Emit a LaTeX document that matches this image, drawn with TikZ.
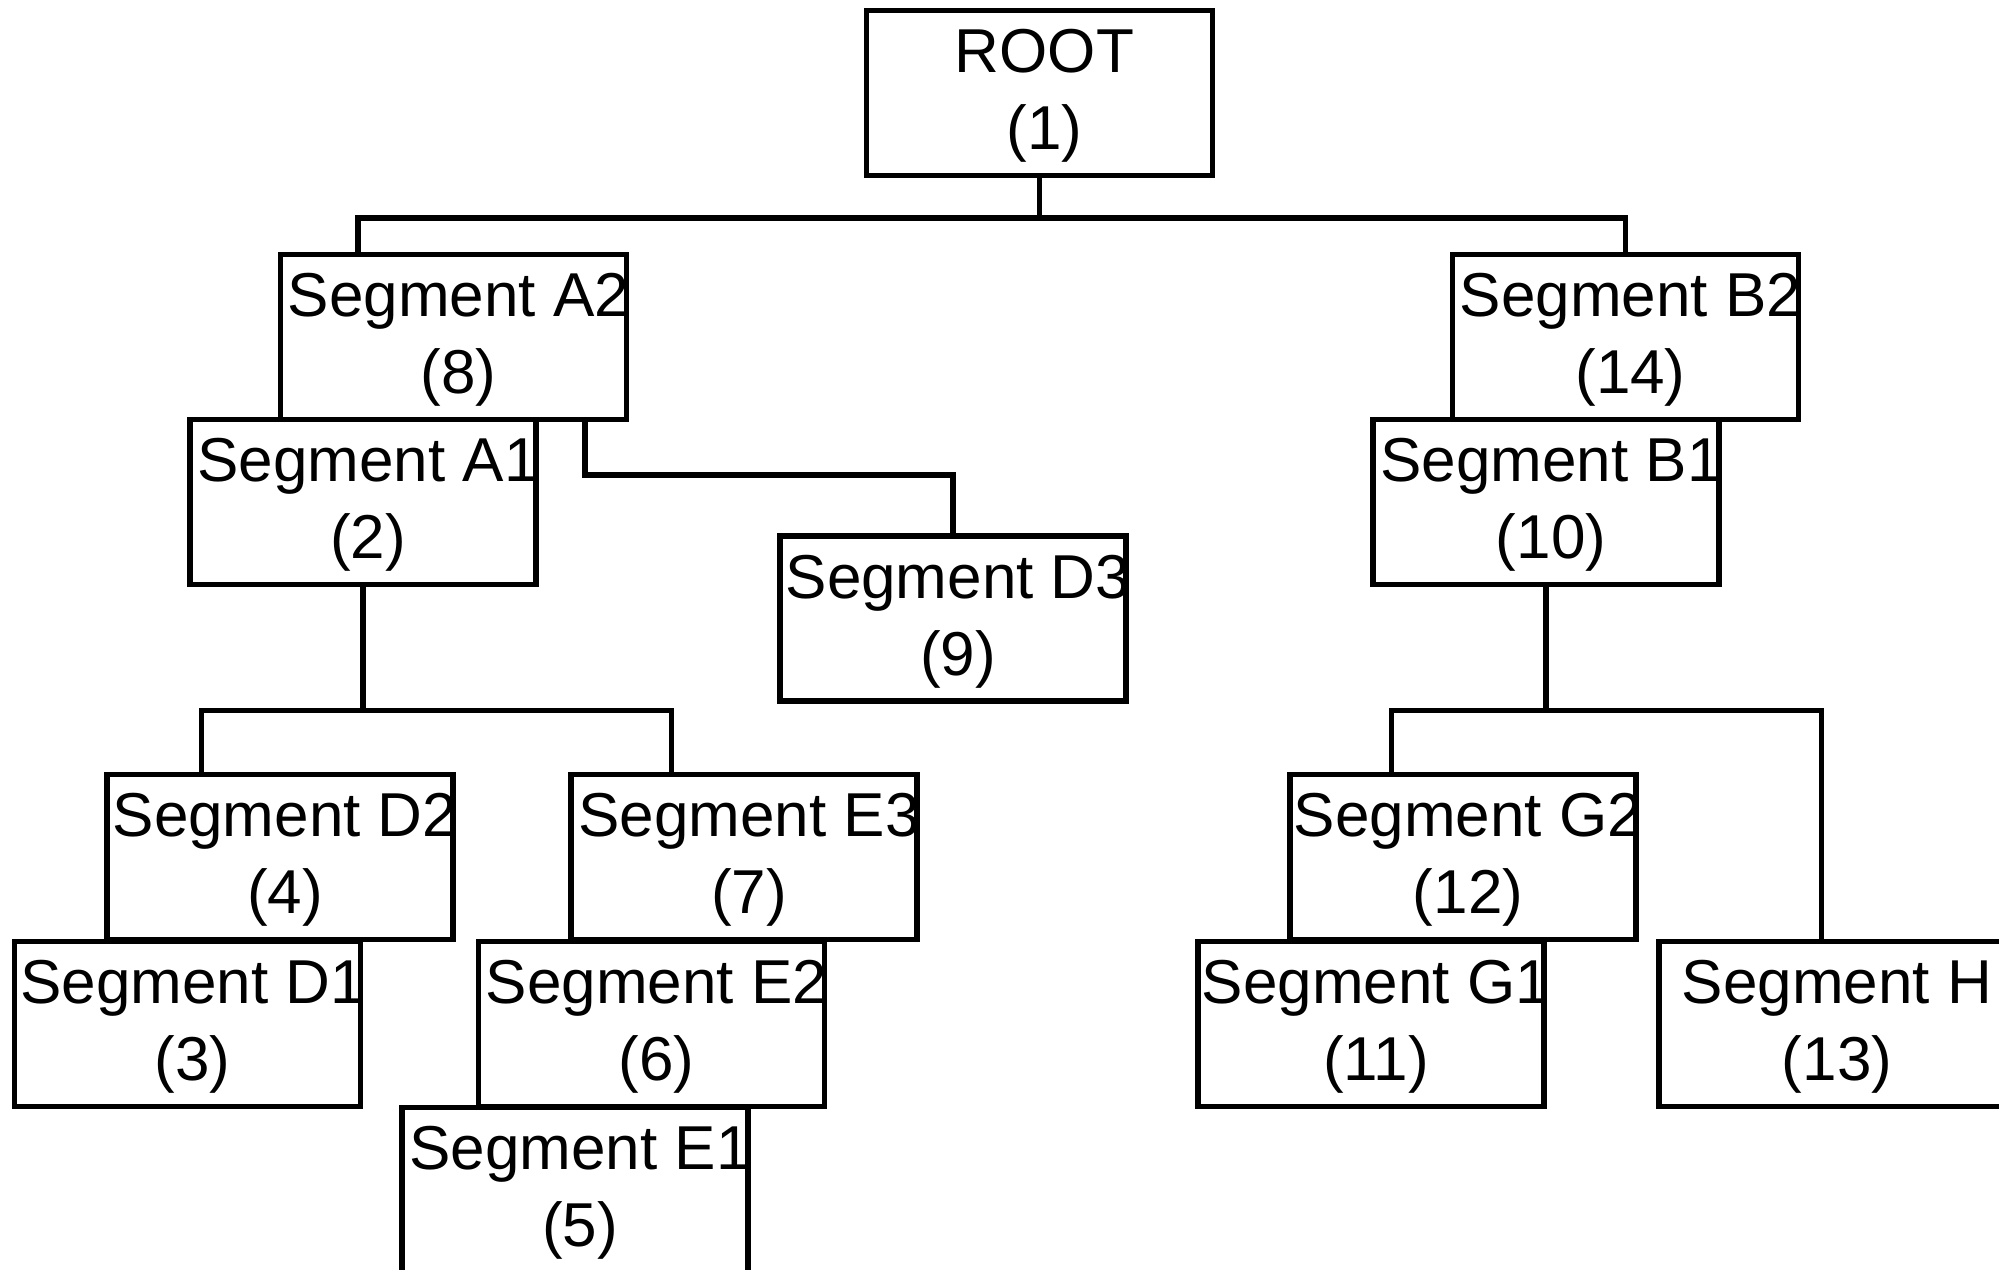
\documentclass[tikz,border=0pt]{standalone}
\usepackage{fontspec}
\setmainfont{Liberation Sans}
\usetikzlibrary{calc}
\begin{document}
\begin{tikzpicture}[x=1pt,y=-1pt,
  segbox/.style={draw=black,line width=5.5pt,minimum width=346pt,minimum height=165pt,inner sep=0pt,
    label={[seglbl]center:#1}},
  seglbl/.style={align=center,inner sep=0pt,xshift=5pt,yshift=-3pt,font=\fontsize{62}{77}\selectfont},
  conn/.style={draw=black,line width=5.5pt}]
\useasboundingbox (0,0) rectangle (1999,1269);
% nodes (centres in pixel coordinates)
\node[segbox={ROOT\\(1)}] (root) at (1039.5,93) {};
\node[segbox={Segment A2\\(8)}] (a2) at (453.5,337) {};
\node[segbox={Segment B2\\(14)}] (b2) at (1625.5,337) {};
\node[segbox={Segment A1\\(2)}] (a1) at (363,502) {};
\node[segbox={Segment B1\\(10)}] (b1) at (1546,502) {};
\node[segbox={Segment D3\\(9)}] (d3) at (953,618.5) {};
\node[segbox={Segment D2\\(4)}] (d2) at (280,857) {};
\node[segbox={Segment E3\\(7)}] (e3) at (744,857) {};
\node[segbox={Segment D1\\(3)}] (d1) at (187.5,1024) {};
\node[segbox={Segment E2\\(6)}] (e2) at (651.5,1024) {};
\node[segbox={Segment E1\\(5)}] (e1) at (575,1190) {};
\node[segbox={Segment G2\\(12)}] (g2) at (1463,857) {};
\node[segbox={Segment G1\\(11)}] (g1) at (1371,1024) {};
\node[segbox={Segment H\\(13)}] (h) at (1832,1024) {};
% connectors
\draw[conn] (root.south) -- ++(0,39.5) coordinate (rj);
\draw[conn] ([xshift=80pt]a2.north west) |- (rj) -| (b2.north);
\draw[conn] ([xshift=307pt]a2.south west) -- ++(0,52.5) -| (d3.north);
\draw[conn] (a1.south) -- ++(0,123) coordinate (aj);
\draw[conn] ([xshift=97pt]d2.north west) |- (aj) -| ([xshift=103pt]e3.north west);
\draw[conn] (b1.south) -- ++(0,123) coordinate (bj);
\draw[conn] ([xshift=104pt]g2.north west) |- (bj) -| ([xshift=165pt]h.north west);
\end{tikzpicture}
\end{document}
